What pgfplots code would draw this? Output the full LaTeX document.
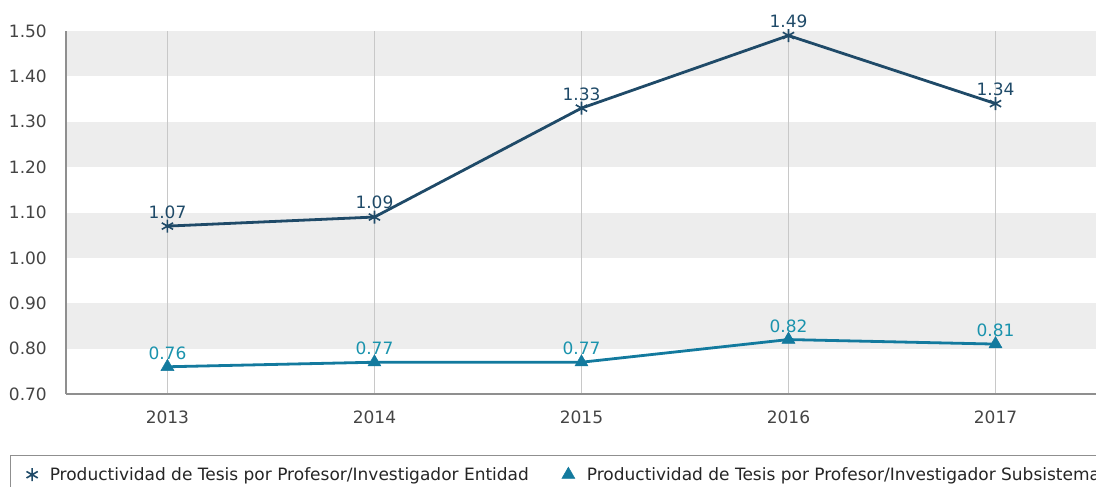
\documentclass[border=0pt]{standalone}
\usepackage{fontspec}
\setmainfont{DejaVu Sans}
\usepackage{pgfplots}
\pgfplotsset{compat=1.18}
\definecolor{c1}{HTML}{1F4A68}
\definecolor{c2}{HTML}{137A9E}
\definecolor{c2l}{HTML}{1A93AD}
\definecolor{band}{HTML}{EDEDED}
\definecolor{gridc}{HTML}{C8C8C8}
\definecolor{axc}{HTML}{8F8F8F}
\definecolor{tickc}{HTML}{444444}
\begin{document}
\begin{tikzpicture}
\begin{axis}[
  set layers,
  at={(66pt,93pt)}, anchor=south west,
  scale only axis, width=1033pt, height=363pt,
  xmin=-0.49, xmax=4.5, ymin=0.7, ymax=1.5,
  xtick={0,1,2,3,4}, xticklabels={2013,2014,2015,2016,2017},
  ytick={0.7,0.8,0.9,1.0,1.1,1.2,1.3,1.4,1.5},
  /pgf/number format/fixed, /pgf/number format/fixed zerofill, /pgf/number format/precision=2,
  /pgf/number format/assume math mode=true,
  yticklabel style={font=\fontsize{17}{20}\selectfont, text=tickc, inner sep=0pt, xshift=-19pt},
  xticklabel style={font=\fontsize{17}{20}\selectfont, text=tickc, inner sep=0pt, yshift=-17pt},
  axis x line*=bottom, axis y line*=left,
  axis line style={axc, line width=1.2pt, -},
  tick style={draw=none},
  xmajorgrids, grid style={gridc, line width=0.9pt},
  clip=false,
  legend columns=2,
  legend style={at={(rel axis cs:0,0)}, anchor=north west, xshift=-56pt, yshift=-61pt,
    draw=axc, line width=1pt, inner xsep=16pt, inner ysep=10pt,
    font=\fontsize{17}{20}\selectfont, text=black!85,
    /tikz/every odd column/.append style={column sep=10pt},
    /tikz/every even column/.append style={column sep=31pt}},
  legend cell align=left,
  every node near coord/.append style={font=\fontsize{17}{20}\selectfont, anchor=south, inner sep=0pt, yshift=7pt},
]
\pgfplotsextra{%
\begin{pgfonlayer}{axis background}
\fill[band] (axis cs:-0.49,1.4) rectangle (axis cs:4.5,1.5);
\fill[band] (axis cs:-0.49,1.2) rectangle (axis cs:4.5,1.3);
\fill[band] (axis cs:-0.49,1.0) rectangle (axis cs:4.5,1.1);
\fill[band] (axis cs:-0.49,0.8) rectangle (axis cs:4.5,0.9);
\end{pgfonlayer}}
\addplot[c1, line width=2.8pt, no marks, forget plot]
  coordinates {(0,1.07) (1,1.09) (2,1.33) (3,1.49) (4,1.34)};
\addplot[c2, line width=2.8pt, no marks, forget plot]
  coordinates {(0,0.76) (1,0.77) (2,0.77) (3,0.82) (4,0.81)};
\addplot[c1, only marks, mark=asterisk, mark size=6.5pt, mark options={line width=1.6pt},
  nodes near coords={\pgfmathprintnumber[fixed,fixed zerofill,precision=2,assume math mode=true]{\pgfplotspointmeta}},
  every node near coord/.append style={text=c1}]
  coordinates {(0,1.07) (1,1.09) (2,1.33) (3,1.49) (4,1.34)};
\addlegendentry{Productividad de Tesis por Profesor/Investigador Entidad}
\addplot[c2, only marks, mark=triangle*, mark size=7.5pt, mark options={line width=0.5pt},
  nodes near coords={\pgfmathprintnumber[fixed,fixed zerofill,precision=2,assume math mode=true]{\pgfplotspointmeta}},
  every node near coord/.append style={text=c2l}]
  coordinates {(0,0.76) (1,0.77) (2,0.77) (3,0.82) (4,0.81)};
\addlegendentry{Productividad de Tesis por Profesor/Investigador Subsistema}
\end{axis}
\pgfresetboundingbox
\path[use as bounding box] (0pt,0pt) rectangle (1096pt,487pt);
\end{tikzpicture}
\end{document}
